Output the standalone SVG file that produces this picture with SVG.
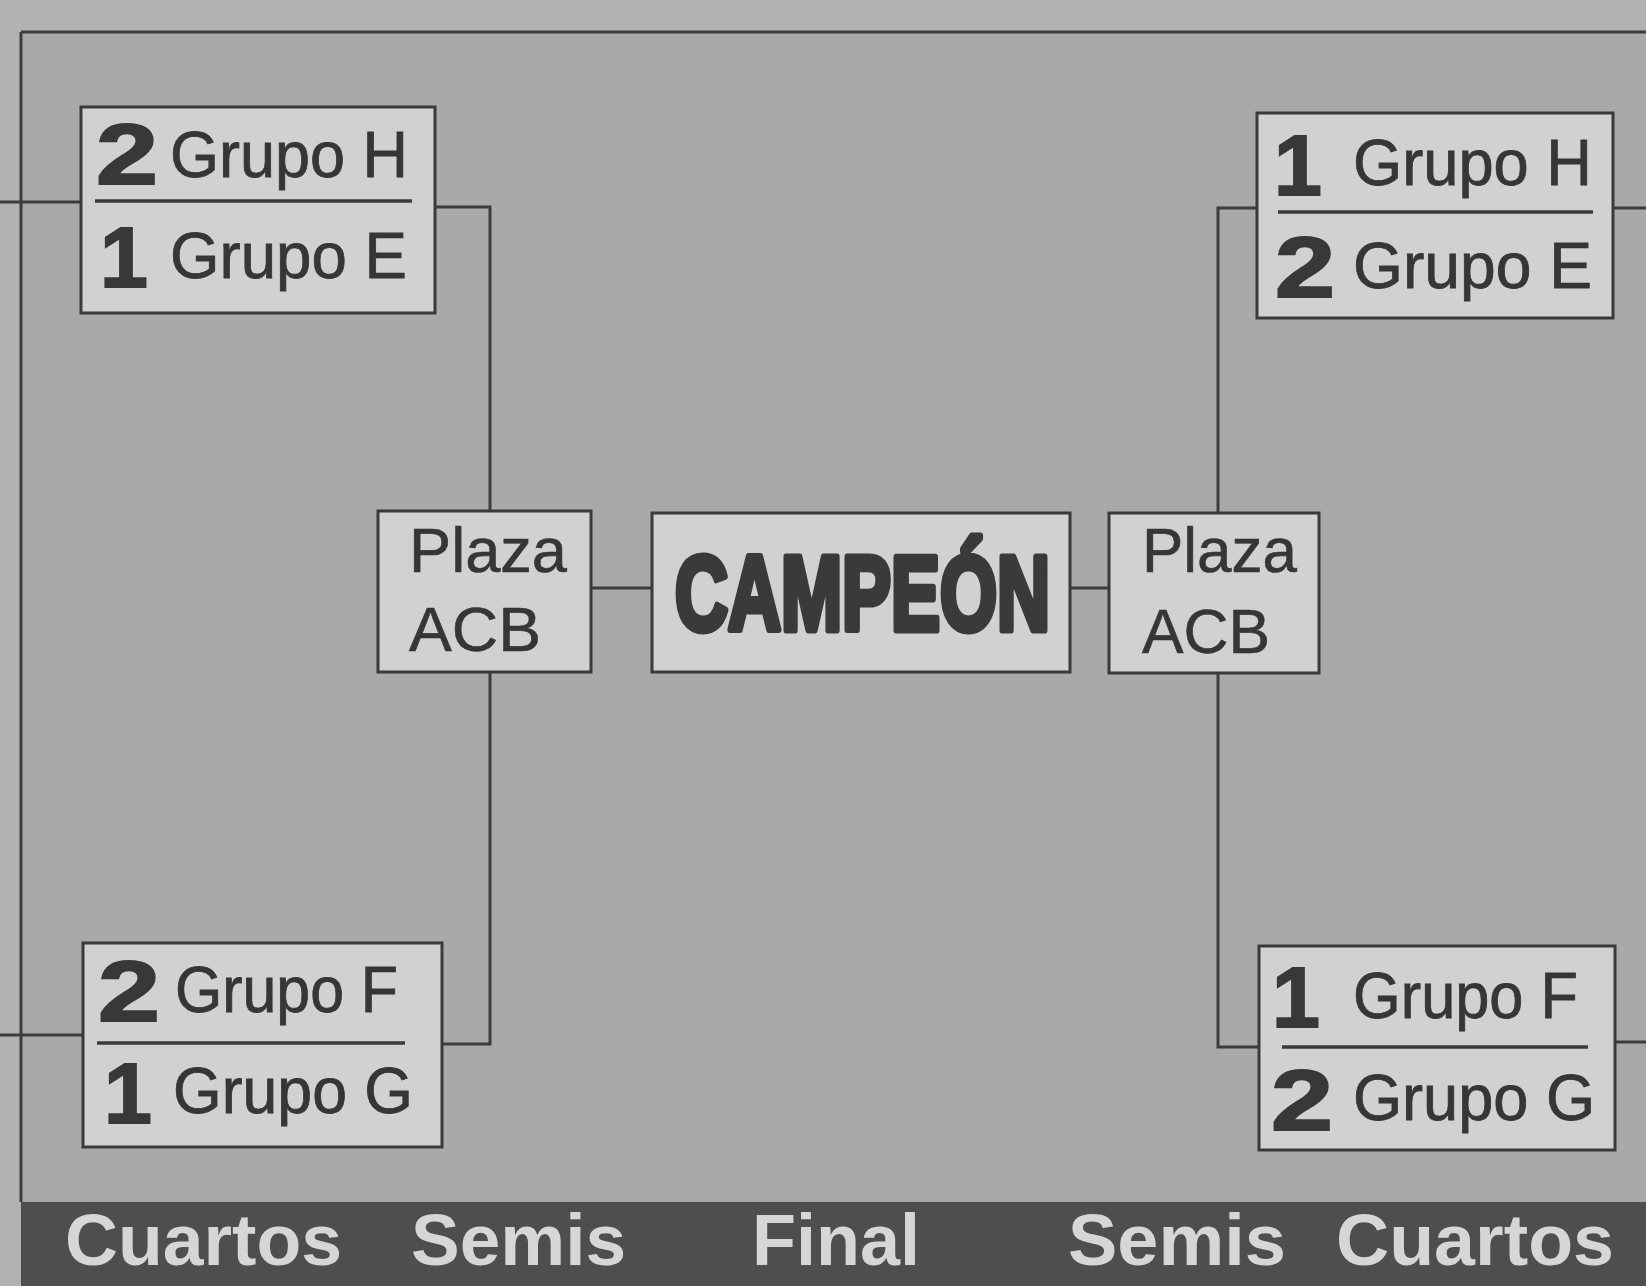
<svg xmlns="http://www.w3.org/2000/svg" width="1646" height="1286" viewBox="0 0 1646 1286">
<style>
.bg{fill:#b2b2b2}
.panel{fill:#a9a9a9}
.box{fill:#d1d1d1;stroke:#3a3a3a;stroke-width:3}
.div{stroke:#3a3a3a;stroke-width:3.5}
.con{fill:none;stroke:#3c3c3c;stroke-width:3}
.num{font-family:"Liberation Sans",Arial,sans-serif;font-weight:bold;font-size:86px;fill:#383838;stroke:#383838;stroke-width:2}
.grp{font-family:"Liberation Sans",Arial,sans-serif;font-size:64px;fill:#363636;stroke:#363636;stroke-width:0.8}
.plz{font-family:"Liberation Sans",Arial,sans-serif;font-size:63px;fill:#363636;stroke:#363636;stroke-width:0.6}
.camp{font-family:"Liberation Sans",Arial,sans-serif;font-weight:bold;font-size:106px;fill:#3a3a3a;stroke:#3a3a3a;stroke-width:7;stroke-linejoin:round}
.bar{fill:#4e4e4e}
.lbl{font-family:"Liberation Sans",Arial,sans-serif;font-weight:bold;font-size:72px;fill:#d6d6d6}
</style>
<rect class="bg" x="0" y="0" width="1646" height="1286"/>
<rect class="panel" x="21" y="32" width="1625" height="1170"/>
<path class="con" d="M21,32 H1646 M21,32 V1202"/>
<rect class="bar" x="21" y="1202" width="1625" height="84"/>

<g id="connectors">
<path class="con" d="M0,202 H81"/>
<path class="con" d="M0,1035 H83"/>
<path class="con" d="M435,207 H490 V1044 H442"/>
<path class="con" d="M591,588 H652"/>
<path class="con" d="M1613,208 H1646"/>
<path class="con" d="M1615,1042 H1646"/>
<path class="con" d="M1257,208 H1218 V1047 H1259"/>
<path class="con" d="M1070,588 H1109"/>
</g>

<g id="qf-left-top">
<rect class="box" x="81" y="107" width="354" height="206"/>
<line class="div" x1="95" y1="201" x2="412" y2="201"/>
<text class="num" x="96" y="184" textLength="62" lengthAdjust="spacingAndGlyphs">2</text>
<text class="grp" x="170" y="177" textLength="238" lengthAdjust="spacingAndGlyphs">Grupo H</text>
<text class="num" x="100" y="287">1</text>
<text class="grp" x="170" y="278" textLength="237" lengthAdjust="spacingAndGlyphs">Grupo E</text>
</g>

<g id="qf-left-bottom">
<rect class="box" x="83" y="943" width="359" height="204"/>
<line class="div" x1="97" y1="1043" x2="405" y2="1043"/>
<text class="num" x="98" y="1021" textLength="62" lengthAdjust="spacingAndGlyphs">2</text>
<text class="grp" x="175" y="1012" textLength="223" lengthAdjust="spacingAndGlyphs">Grupo F</text>
<text class="num" x="104" y="1123">1</text>
<text class="grp" x="173" y="1113" textLength="240" lengthAdjust="spacingAndGlyphs">Grupo G</text>
</g>

<g id="qf-right-top">
<rect class="box" x="1257" y="113" width="356" height="205"/>
<line class="div" x1="1278" y1="212" x2="1593" y2="212"/>
<text class="num" x="1274" y="195">1</text>
<text class="grp" x="1353" y="185" textLength="239" lengthAdjust="spacingAndGlyphs">Grupo H</text>
<text class="num" x="1275" y="297" textLength="60" lengthAdjust="spacingAndGlyphs">2</text>
<text class="grp" x="1353" y="288" textLength="239" lengthAdjust="spacingAndGlyphs">Grupo E</text>
</g>

<g id="qf-right-bottom">
<rect class="box" x="1259" y="946" width="356" height="204"/>
<line class="div" x1="1282" y1="1047" x2="1588" y2="1047"/>
<text class="num" x="1272" y="1027">1</text>
<text class="grp" x="1353" y="1018" textLength="225" lengthAdjust="spacingAndGlyphs">Grupo F</text>
<text class="num" x="1271" y="1130" textLength="62" lengthAdjust="spacingAndGlyphs">2</text>
<text class="grp" x="1353" y="1120" textLength="242" lengthAdjust="spacingAndGlyphs">Grupo G</text>
</g>

<g id="sf-left">
<rect class="box" x="378" y="511" width="213" height="161"/>
<text class="plz" x="409" y="572" textLength="158" lengthAdjust="spacingAndGlyphs">Plaza</text>
<text class="plz" x="409" y="651" textLength="132" lengthAdjust="spacingAndGlyphs">ACB</text>
</g>

<g id="final">
<rect class="box" x="652" y="513" width="418" height="159"/>
<text class="camp" x="675" y="630" textLength="375" lengthAdjust="spacingAndGlyphs">CAMPEÓN</text>
</g>

<g id="sf-right">
<rect class="box" x="1109" y="513" width="210" height="160"/>
<text class="plz" x="1142" y="572" textLength="155" lengthAdjust="spacingAndGlyphs">Plaza</text>
<text class="plz" x="1142" y="653" textLength="128" lengthAdjust="spacingAndGlyphs">ACB</text>
</g>

<g id="round-labels">
<text class="lbl" x="65" y="1265" textLength="277" lengthAdjust="spacingAndGlyphs">Cuartos</text>
<text class="lbl" x="411" y="1265" textLength="215" lengthAdjust="spacingAndGlyphs">Semis</text>
<text class="lbl" x="752" y="1265" textLength="168" lengthAdjust="spacingAndGlyphs">Final</text>
<text class="lbl" x="1068" y="1265" textLength="218" lengthAdjust="spacingAndGlyphs">Semis</text>
<text class="lbl" x="1336" y="1265" textLength="278" lengthAdjust="spacingAndGlyphs">Cuartos</text>
</g>
</svg>
